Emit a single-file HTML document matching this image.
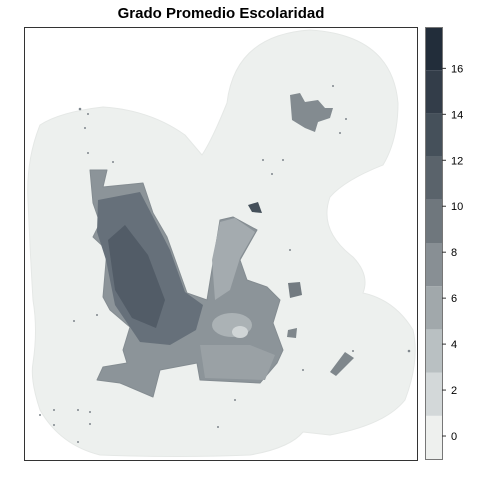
<!DOCTYPE html>
<html><head><meta charset="utf-8"><style>
html,body{margin:0;padding:0;background:#fff;}
svg{display:block;font-family:"Liberation Sans",sans-serif;}
</style></head><body>
<svg width="480" height="480" viewBox="0 0 480 480">
<text x="221" y="18" text-anchor="middle" font-size="15" font-weight="bold">Grado Promedio Escolaridad</text>
<g>
<path fill="#edf0ee" stroke="#e5e8e6" stroke-width="1" stroke-linejoin="round"
d="M40,125 Q60,112 103,107 Q150,110 185,135 L202,155 Q212,140 227,103 Q235,35 310,30 Q392,35 398,103 Q398,140 383,165 Q345,180 330,197 Q318,230 353,257 Q370,275 363,293 Q395,300 413,330 Q420,360 405,400 Q385,425 330,435 L303,432 Q290,448 250,455 Q180,458 100,455 Q60,445 40,410 Q30,380 33,363 Q38,330 33,300 Q30,250 28,200 Q26,160 40,125 Z"/>
<path fill="#8c9499" stroke="#848c91" stroke-width="1" stroke-linejoin="round"
d="M90,170 L107,170 L103,187 L143,183 L153,213 L167,237 L187,293 L207,300 L220,220 L233,217 L257,230 L240,260 L247,280 L267,287 L280,300 L273,323 L283,350 L277,363 L260,383 L200,380 L197,363 L160,370 L153,397 L120,383 L97,380 L103,367 L127,363 L123,350 L130,327 L110,310 L103,297 L107,250 L93,237 L100,223 L93,203 Z"/>
<path fill="#66707a" d="M98,200 L140,192 L152,215 L170,250 L185,292 L203,305 L196,330 L170,345 L140,342 L115,305 L106,260 L97,232 Z"/>
<path fill="#525c67" d="M108,240 L125,225 L148,255 L165,300 L156,328 L132,318 L115,290 Z"/>
<path fill="#a4abaf" d="M220,222 L235,218 L255,232 L240,258 L230,290 L215,300 L212,260 Z"/>
<ellipse cx="232" cy="325" rx="20" ry="12" fill="#abb2b5"/>
<ellipse cx="240" cy="332" rx="8" ry="6" fill="#d0d5d6"/>
<path fill="#9aa1a5" d="M200,345 L250,345 L275,355 L265,380 L205,378 Z"/>
<path fill="#838b90" d="M290,95 L300,93 L305,102 L318,100 L325,108 L333,108 L330,118 L318,122 L315,132 L305,128 L292,120 Z"/>
<path fill="#737b81" d="M288,283 L300,282 L302,295 L290,298 Z"/>
<path fill="#45505a" d="M248,205 L258,202 L262,213 L252,212 Z"/>
<path fill="#7f878c" d="M330,372 L345,352 L354,358 L336,376 Z"/>
<path fill="#7f878c" d="M288,330 L297,328 L296,338 L287,337 Z"/>
<g fill="#7f878d">
<circle cx="80" cy="109" r="1.3"/><circle cx="88" cy="114" r="1"/><circle cx="85" cy="128" r="1"/><circle cx="88" cy="153" r="1"/><circle cx="113" cy="162" r="1"/><circle cx="283" cy="160" r="1"/><circle cx="272" cy="174" r="1"/><circle cx="333" cy="86" r="1"/><circle cx="346" cy="119" r="1"/><circle cx="340" cy="133" r="1"/><circle cx="74" cy="321" r="1"/><circle cx="97" cy="315" r="1"/><circle cx="409" cy="351" r="1.3"/><circle cx="353" cy="351" r="1"/><circle cx="303" cy="370" r="1"/><circle cx="235" cy="400" r="1"/><circle cx="54" cy="410" r="1"/><circle cx="78" cy="410" r="1"/><circle cx="90" cy="412" r="1"/><circle cx="40" cy="415" r="1"/><circle cx="90" cy="424" r="1"/><circle cx="54" cy="425" r="1"/><circle cx="78" cy="442" r="1"/><circle cx="218" cy="427" r="1"/><circle cx="263" cy="160" r="1"/><circle cx="290" cy="250" r="1"/></g>
</g>
<rect x="24.5" y="27.5" width="393" height="433" fill="none" stroke="#333" stroke-width="1"/>
<g id="legend"></g>
<script>
const binColors = ["#eef0ee","#d3d8d9","#b9c0c2","#a1a8ab","#888f94","#6f777d","#5a636b","#45505a","#333d49","#222d3a"];
const tickValues = [0,2,4,6,8,10,12,14,16];
const legendMin = -1, legendMax = 17.8;
const lx = 425, lw = 17, ltop = 27, lbot = 459;
function ly(v){ return lbot - (v - legendMin) / (legendMax - legendMin) * (lbot - ltop); }
const g = document.getElementById('legend');
const ns = "http://www.w3.org/2000/svg";
const binW = (legendMax - legendMin) / binColors.length;
binColors.forEach((c, i) => {
  const lo = legendMin + i * binW;
  const hi = lo + binW;
  const r = document.createElementNS(ns, 'rect');
  r.setAttribute('x', lx); r.setAttribute('y', ly(hi)); r.setAttribute('width', lw); r.setAttribute('height', ly(lo) - ly(hi)); r.setAttribute('fill', c);
  
  
  g.appendChild(r);
});
const fr = document.createElementNS(ns, 'rect');
fr.setAttribute('x', lx + 0.5); fr.setAttribute('y', ltop + 0.5); fr.setAttribute('width', lw); fr.setAttribute('height', lbot - ltop); fr.setAttribute('fill', 'none'); fr.setAttribute('stroke', '#777');


g.appendChild(fr);
tickValues.forEach(v => {
  const y = ly(v);
  const t = document.createElementNS(ns, 'line');
  t.setAttribute('x1', lx + lw); t.setAttribute('x2', lx + lw + 4); t.setAttribute('y1', y); t.setAttribute('y2', y); t.setAttribute('stroke', '#333');
  
  
  g.appendChild(t);
  const tx = document.createElementNS(ns, 'text');
  tx.setAttribute('x', lx + lw + 9); tx.setAttribute('y', y + 4); tx.setAttribute('font-size', '11');
  tx.textContent = v;
  
  
  g.appendChild(tx);
});
</script>
</svg>
</body></html>
